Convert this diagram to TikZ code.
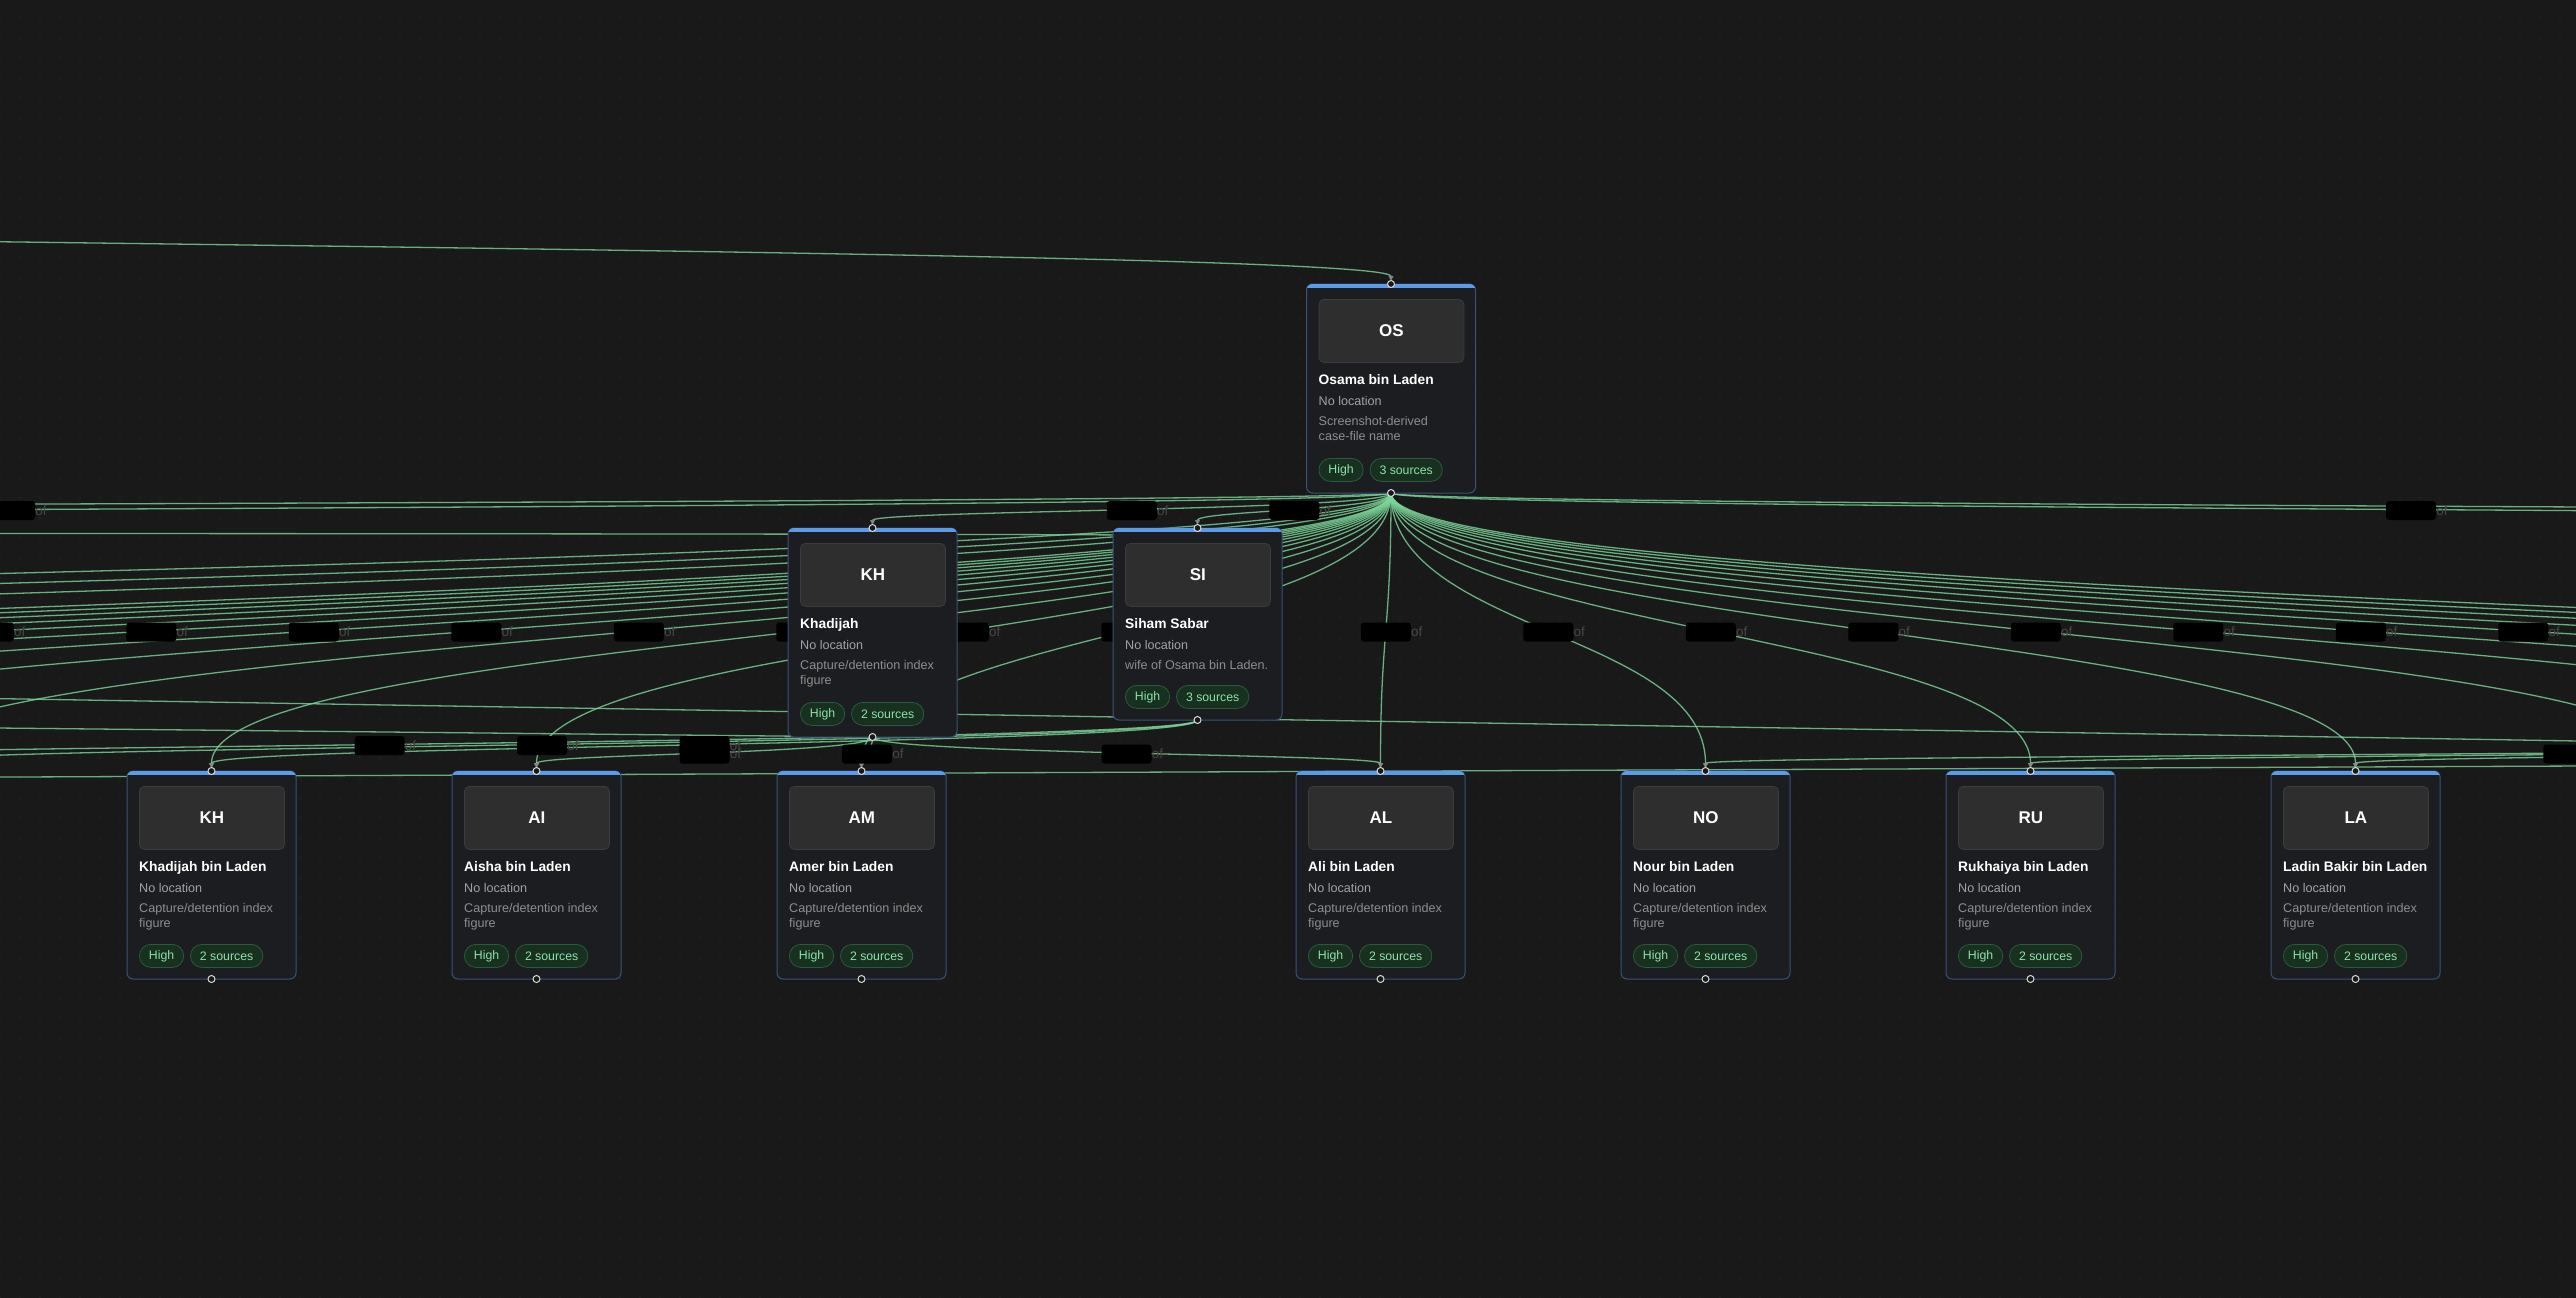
\documentclass[tikz,border=0pt]{standalone}
\usepackage{fontspec}
\setmainfont{Liberation Sans}
\usetikzlibrary{calc,positioning,arrows.meta,patterns}
\definecolor{fambg}{HTML}{191919}
\definecolor{famdot}{HTML}{2A2A2A}
\definecolor{famcardbg}{HTML}{1C1D20}
\definecolor{famcardedge}{HTML}{38527A}
\definecolor{famaccent}{HTML}{5B9BE8}
\definecolor{famavatar}{HTML}{2E2E2E}
\definecolor{famavataredge}{HTML}{3C3C3C}
\definecolor{famgrey}{HTML}{A2A2A2}
\definecolor{famdim}{HTML}{8E8E8E}
\definecolor{fambadgebg}{HTML}{17301F}
\definecolor{fambadgeedge}{HTML}{2B5A3A}
\definecolor{fambadgetext}{HTML}{8BE3A9}
\definecolor{famlinkcol}{HTML}{7CD69A}
\definecolor{famtip}{HTML}{8A8A8A}
\definecolor{famof}{HTML}{474747}

\pgfdeclarelayer{famback}
\pgfdeclarelayer{famlinks}
\pgfdeclarelayer{famtags}
\pgfsetlayers{famback,famlinks,famtags,main}

\pgfdeclarepatternformonly{famgrid}{\pgfqpoint{-1pt}{-1pt}}{\pgfqpoint{1pt}{1pt}}%
  {\pgfqpoint{20pt}{20pt}}{\pgfpathcircle{\pgfpointorigin}{0.8pt}\pgfusepath{fill}}

\tikzset{
 fam card/.style={rectangle,rounded corners=6pt,fill=famcardbg,draw=famcardedge,
                  line width=1pt,minimum width=169pt,inner sep=0pt,outer sep=0pt},
 fam avatar/.style={rectangle,rounded corners=5pt,fill=famavatar,draw=famavataredge,
                  line width=.8pt,minimum width=145pt,minimum height=63pt,inner sep=0pt,
                  text=white,font=\fontsize{17}{20}\selectfont\bfseries},
 fam name/.style={inner sep=0pt,text=white,font=\fontsize{13.8}{16}\selectfont\bfseries},
 fam loc/.style={inner sep=0pt,text=famgrey,font=\fontsize{12.6}{15}\selectfont},
 fam desc/.style={inner sep=0pt,text=famdim,font=\fontsize{12.6}{15}\selectfont},
 fam badge/.style={rectangle,rounded corners=11.5pt,fill=fambadgebg,draw=fambadgeedge,
                  line width=.8pt,minimum height=23pt,inner xsep=9.5pt,inner ysep=0pt,
                  text=fambadgetext,font=\fontsize{12.3}{14}\selectfont},
 fam handle/.style={circle,fill=fambg,draw=white!85!black,line width=1pt,
                  minimum size=7pt,inner sep=0pt},
 fam link/.style={draw=famlinkcol,line width=1.3pt,draw opacity=.8,shorten >=3pt,
                  -{Triangle[length=5pt,width=5pt,color=famtip]}},
 fam tag/.style={rectangle,rounded corners=3pt,fill=black,minimum width=50pt,
                  minimum height=19pt,inner sep=0pt},
 fam of/.style={inner sep=0pt,anchor=west,text=famof,font=\fontsize{13.5}{15}\selectfont}
}

% card: name, top centre, height, initials, full name, desc 1, desc 2, sources
\newcommand\famcard[8]{%
  \node[fam card,minimum height=#3,anchor=north] (#1) at #2 {};
  \begin{scope}
    \clip[rounded corners=6pt] (#1.north west) rectangle (#1.south east);
    \fill[famaccent] (#1.north west) rectangle ($(#1.north east)+(0,3.5)$);
  \end{scope}
  \node[fam avatar,anchor=north west] (#1-av) at ($(#1.north west)+(12,15)$) {#4};
  \node[fam name,anchor=base west] (#1-nm) at ($(#1.north west)+(12,100)$) {#5};
  \node[fam loc,anchor=base west] (#1-loc) at ($(#1-nm.base west)+(0,21)$) {No location};
  \node[fam desc,anchor=base west] (#1-d1) at ($(#1-loc.base west)+(0,20)$) {#6};
  \node[fam desc,anchor=base west] (#1-d2) at ($(#1-d1.base west)+(0,15.5)$) {#7};
  \node[fam badge,anchor=north west] (#1-hi) at ($(#1.south west)+(12,-35)$) {High};
  \node[fam badge,right=6pt of #1-hi] (#1-src) {#8 sources};
  \node[fam handle] at (#1.north) {};
  \node[fam handle] at (#1.south) {};
}

% relation: bezier from a bottom handle to a top handle, tag at the middle
\newcommand\famlink[2]{%
  \path ($(#1)!.5!(#2)$) coordinate (fm);
  \begin{pgfonlayer}{famlinks}
    \draw[fam link] (#1) .. controls (#1 |- fm) and (#2 |- fm) .. (#2);
  \end{pgfonlayer}
  \begin{pgfonlayer}{famtags}
    \node[fam tag] (fmtag) at (fm) {};
    \node[fam of] at (fmtag.east) {of};
  \end{pgfonlayer}
}

\begin{document}
\begin{tikzpicture}[x=1pt,y=-1pt]
 \useasboundingbox (0,0) rectangle (2576,1298);
 \begin{pgfonlayer}{famback}
   \fill[fambg] (0,0) rectangle (2576,1298);
   \fill[pattern=famgrid,pattern color=famdot] (0,0) rectangle (2576,1298);
 \end{pgfonlayer}

 % cards
 \famcard{os}{(1391,284)}{209pt}{OS}{Osama bin Laden}{Screenshot-derived}{case-file name}{3}
 \famcard{khw}{(872.5,528)}{209pt}{KH}{Khadijah}{Capture/detention index}{figure}{2}
 \famcard{si}{(1197.5,528)}{192pt}{SI}{Siham Sabar}{wife of Osama bin Laden.}{}{3}
 \foreach \n/\x/\ini/\full in {kb/211.5/KH/Khadijah bin Laden,ai/536.5/AI/Aisha bin Laden,
     am/861.5/AM/Amer bin Laden,al/1380.5/AL/Ali bin Laden,no/1705.5/NO/Nour bin Laden,
     ru/2030.5/RU/Rukhaiya bin Laden,la/2355.5/LA/Ladin Bakir bin Laden}{
   \famcard{\n}{(\x,771)}{208pt}{\ini}{\full}{Capture/detention index}{figure}{2}
 }

 % off-screen ends
 \coordinate (par) at (-1500,200);
 \foreach \k in {1,...,9}{\coordinate (kl\k) at ({211.5-325*\k},771);}
 \coordinate (kl10) at (-4200,771);
 \coordinate (kl11) at (-5800,771);
 \coordinate (kl12) at (-8000,771);
 \foreach \k in {1,...,8}{\coordinate (kr\k) at ({2355.5+325*\k},771);}
 \coordinate (wl1) at (-1371,528);
 \coordinate (wl2) at (-5900,528);
 \coordinate (wr1) at (3431,528);
 \coordinate (wr1b) at (3431,737);
 \coordinate (wr2) at (5000,528);
 \coordinate (xa) at (-2500,537);
 \coordinate (xb) at (-100,697);
 \coordinate (xc) at (2700,743);
 \coordinate (xd) at (-100,777.5);
 \coordinate (xe) at (2700,765.5);
 \coordinate (xf) at (-100,727);

 % father
 \famlink{par}{os.north}
 \foreach \k in {1,...,12}{\famlink{os.south}{kl\k}}
 \foreach \t in {kb,ai,am,al,no,ru,la}{\famlink{os.south}{\t.north}}
 \foreach \k in {1,...,8}{\famlink{os.south}{kr\k}}
 % wives
 \foreach \t in {khw.north,si.north,wl1,wl2,wr1,wr2}{\famlink{os.south}{\t}}
 % mothers
 \foreach \t in {ai,am,al}{\famlink{khw.south}{\t.north}}
 \foreach \t in {kb.north,kl1,kl2}{\famlink{si.south}{\t}}
 \foreach \t in {no.north,ru.north,la.north,kr1,kr2,kr3,kr4}{\famlink{wr1b}{\t}}
 \famlink{xa}{si.north}
 \begin{pgfonlayer}{famlinks}
   \draw[fam link,-] (xb) -- (xc);
   \draw[fam link,-] (xd) -- (xe);
   \draw[fam link,-] (xf) -- (khw.south);
 \end{pgfonlayer}
\end{tikzpicture}
\end{document}
